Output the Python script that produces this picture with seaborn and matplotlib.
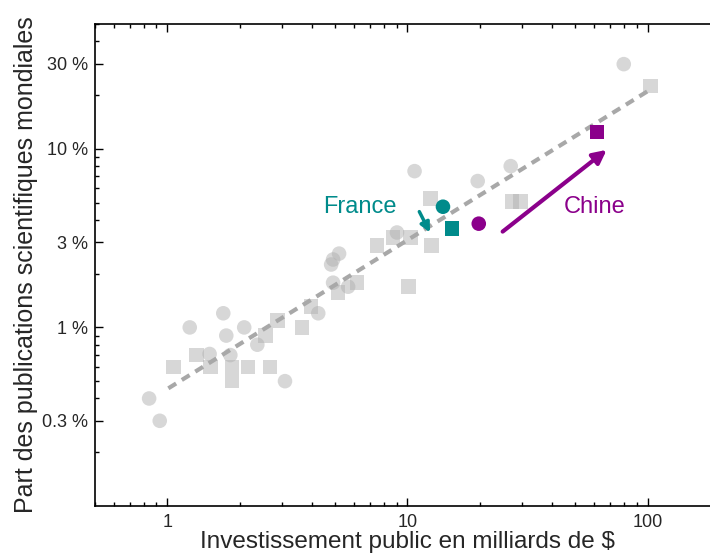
import numpy as np
import pandas as pd
import matplotlib
matplotlib.use("Agg")
import matplotlib.pyplot as plt
import matplotlib.ticker as mticker
import seaborn as sns

# pays en gris : ronds et carres (investissement en milliards $, part en %)
ronds_x = [0.84, 0.93, 1.24, 1.71, 1.76, 2.09, 1.50, 1.83, 2.37, 3.09, 4.25,
           4.90, 5.66, 4.81, 4.90, 5.19, 9.04, 10.7, 19.6, 26.9, 79.5]
ronds_y = [0.40, 0.30, 1.00, 1.20, 0.90, 1.00, 0.71, 0.70, 0.80, 0.50, 1.20,
           1.78, 1.69, 2.25, 2.40, 2.59, 3.40, 7.5, 6.6, 8.0, 29.8]
carres_x = [1.06, 1.32, 1.51, 1.86, 2.17, 2.68, 1.86, 2.56, 2.87, 3.64, 3.97,
            5.14, 6.17, 7.47, 8.70, 10.3, 12.6, 10.1, 12.5, 27.2, 29.6, 103]
carres_y = [0.60, 0.70, 0.60, 0.60, 0.60, 0.60, 0.50, 0.90, 1.09, 1.00, 1.31,
            1.57, 1.78, 2.87, 3.18, 3.18, 2.87, 1.69, 5.26, 5.06, 5.06, 22.5]

# France et Chine : [rond, carre]
france_x = [14.05, 15.3]
france_y = [4.74, 3.57]
chine_x = [19.8, 61.4]
chine_y = [3.81, 12.4]

# droite de tendance
tendance_x = [1.01, 105]
tendance_y = [0.456, 21.9]

yticks = [0.3, 1, 3, 10, 30]
ytick_labels = ["0.3 %", "1 %", "3 %", "10 %", "30 %"]
xticks = [1, 10, 100]
xtick_labels = ["1", "10", "100"]

sns.set_style("ticks")
plt.rcParams['font.family'] = ['Liberation Sans', 'DejaVu Sans']

gris = pd.DataFrame({
    'x': ronds_x + carres_x,
    'y': ronds_y + carres_y,
    'forme': ['rond'] * len(ronds_x) + ['carre'] * len(carres_x),
})
pays = pd.DataFrame({
    'x': france_x + chine_x,
    'y': france_y + chine_y,
    'forme': ['rond', 'carre', 'rond', 'carre'],
    'pays': ['France', 'France', 'Chine', 'Chine'],
})

fig = plt.figure(figsize=(7.1, 5.53), dpi=100)
ax = fig.add_axes([95 / 710, 47 / 553, 625 / 710, 482 / 553])

sns.scatterplot(data=gris, x='x', y='y', style='forme',
                markers={'rond': 'o', 'carre': 's'}, color='#b0b0b0',
                alpha=0.5, s=110, linewidth=0, legend=False, ax=ax, zorder=2)
sns.lineplot(x=tendance_x, y=tendance_y, color='#a8a8a8', lw=3,
             dashes=(2.2, 1.6), ax=ax, zorder=3)
sns.scatterplot(data=pays, x='x', y='y', style='forme', hue='pays',
                markers={'rond': 'o', 'carre': 's'},
                palette={'France': '#008b8b', 'Chine': '#8b008b'},
                s=110, linewidth=0, legend=False, ax=ax, zorder=4)

ax.set_xscale('log')
ax.set_yscale('log')
ax.set_xlim(0.5, 200)
ax.set_ylim(0.1, 50)

ax.set_xticks(xticks)
ax.set_xticklabels(xtick_labels)
ax.set_yticks(yticks)
ax.set_yticklabels(ytick_labels)
ax.xaxis.set_minor_locator(mticker.LogLocator(base=10, subs=np.arange(2, 10)))
ax.yaxis.set_minor_locator(mticker.LogLocator(base=10, subs=np.arange(2, 10)))
ax.xaxis.set_minor_formatter(mticker.NullFormatter())
ax.yaxis.set_minor_formatter(mticker.NullFormatter())

ax.tick_params(which='both', direction='in', top=True, right=True,
               labelsize=13, width=1, color='black')
ax.tick_params(which='major', length=6, pad=5)
ax.tick_params(axis='x', which='major', pad=6)
ax.tick_params(which='minor', length=3)
for sp in ax.spines.values():
    sp.set_linewidth(1.2)
    sp.set_color('black')

ax.set_xlabel("Investissement public en milliards de $", fontsize=17.5, labelpad=0)
ax.set_ylabel("Part des publications scientifiques mondiales", fontsize=18, labelpad=3)

# fleches et noms
ax.annotate("", xy=(12.4, 3.40), xytext=(11.2, 4.45),
            arrowprops=dict(arrowstyle='-|>', color='#008b8b', lw=2.5,
                            mutation_scale=14, shrinkA=0, shrinkB=0), zorder=5)
ax.annotate("", xy=(67.5, 9.87), xytext=(24.9, 3.44),
            arrowprops=dict(arrowstyle='-|>', color='#8b008b', lw=3,
                            mutation_scale=20, shrinkA=0, shrinkB=0), zorder=5)
ax.text(6.35, 4.75, "France", color='#008b8b', fontsize=17, ha='center', va='center')
ax.text(60.2, 4.75, "Chine", color='#8b008b', fontsize=17, ha='center', va='center')

plt.savefig("out.png", dpi=100)
